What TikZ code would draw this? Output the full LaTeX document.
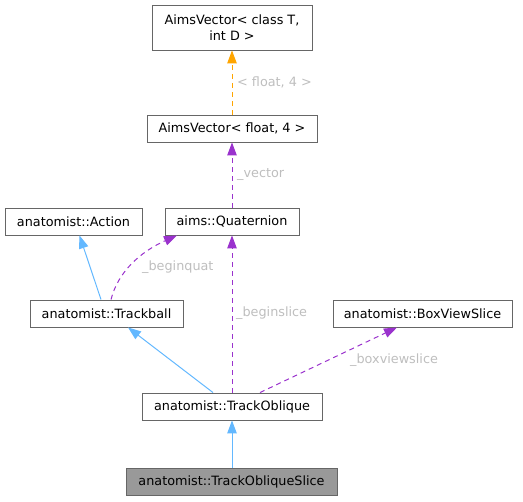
\documentclass[tikz,border=0pt]{standalone}
\usepackage{fontspec}
\setmainfont{DejaVu Sans}
\usetikzlibrary{arrows.meta,positioning,calc}
\definecolor{edgeblue}{HTML}{63B8FF}
\definecolor{edgepurple}{HTML}{9A32CD}
\definecolor{edgeorange}{HTML}{FFA500}
\definecolor{boxgray}{HTML}{666666}
\definecolor{labelgray}{HTML}{BEBEBE}

\begin{document}
\begin{tikzpicture}[x=1pt,y=-1pt,
  every node/.style={font=\fontsize{12.8}{16.5}\selectfont},
  cls/.style={draw=boxgray,fill=white,line width=0.9pt,minimum height=27pt,inner sep=0pt},
  inherit/.style={edgeblue,line width=1pt,-{Triangle[length=13pt,width=9.5pt]}},
  usage/.style={edgepurple,line width=1pt,dash pattern=on 5pt off 4pt,-{Triangle[length=13pt,width=9.5pt]}},
  tmpl/.style={edgeorange,line width=1pt,dash pattern=on 5pt off 4pt,-{Triangle[length=13pt,width=9.5pt]}},
  elabel/.style={text=labelgray,anchor=west,inner sep=0pt}]
  \useasboundingbox (0,0) rectangle (523,502);

  \node[cls,minimum width=160pt,minimum height=45pt,align=center] (avT) at (232,27.5) {AimsVector< class T,\\int D >};
  \node[cls,minimum width=170pt] (avF) at (232,128.5) {AimsVector< float, 4 >};
  \node[cls,minimum width=137pt] (action) at (73.5,221.5) {anatomist::Action};
  \node[cls,minimum width=134pt] (quat) at (232,221.5) {aims::Quaternion};
  \node[cls,minimum width=153pt] (tball) at (106.5,313.5) {anatomist::Trackball};
  \node[cls,minimum width=179pt] (bvs) at (422.5,313.5) {anatomist::BoxViewSlice};
  \node[cls,minimum width=180pt] (tob) at (232,406.5) {anatomist::TrackOblique};
  \node[cls,minimum width=211pt,fill={rgb,255:red,153;green,153;blue,153}] (tobs) at (231.5,482) {anatomist::TrackObliqueSlice};

  % inheritance
  \draw[inherit] (tobs.north -| tob.south) -- (tob.south);
  \draw[inherit] ([xshift=-19pt]tob.north) -- ([xshift=21.5pt]tball.south);
  \draw[inherit] ([xshift=-5.5pt]tball.north) -- ([xshift=6pt]action.south);

  % members
  \draw[usage] ([xshift=4.5pt]tball.north) .. controls (118,272) and (140,252) .. ([xshift=-55pt]quat.south);
  \draw[usage] (tob.north) -- (quat.south);
  \draw[usage] ([xshift=28pt]tob.north) -- ([xshift=-25.5pt]bvs.south);
  \draw[usage] (quat.north) -- (avF.south);
  \draw[tmpl] (avF.north) -- (avT.south);

  \node[elabel] (lbeginquat) at (142,267) {\_beginquat};
  \node[elabel] (lbeginslice) at (236,313) {\_beginslice};
  \node[elabel] (lboxview) at (350,360) {\_boxviewslice};
  \node[elabel] (lvector) at (237,175) {\_vector};
  \node[elabel] (ltmpl) at (237,82) {< float, 4 >};
\end{tikzpicture}
\end{document}
